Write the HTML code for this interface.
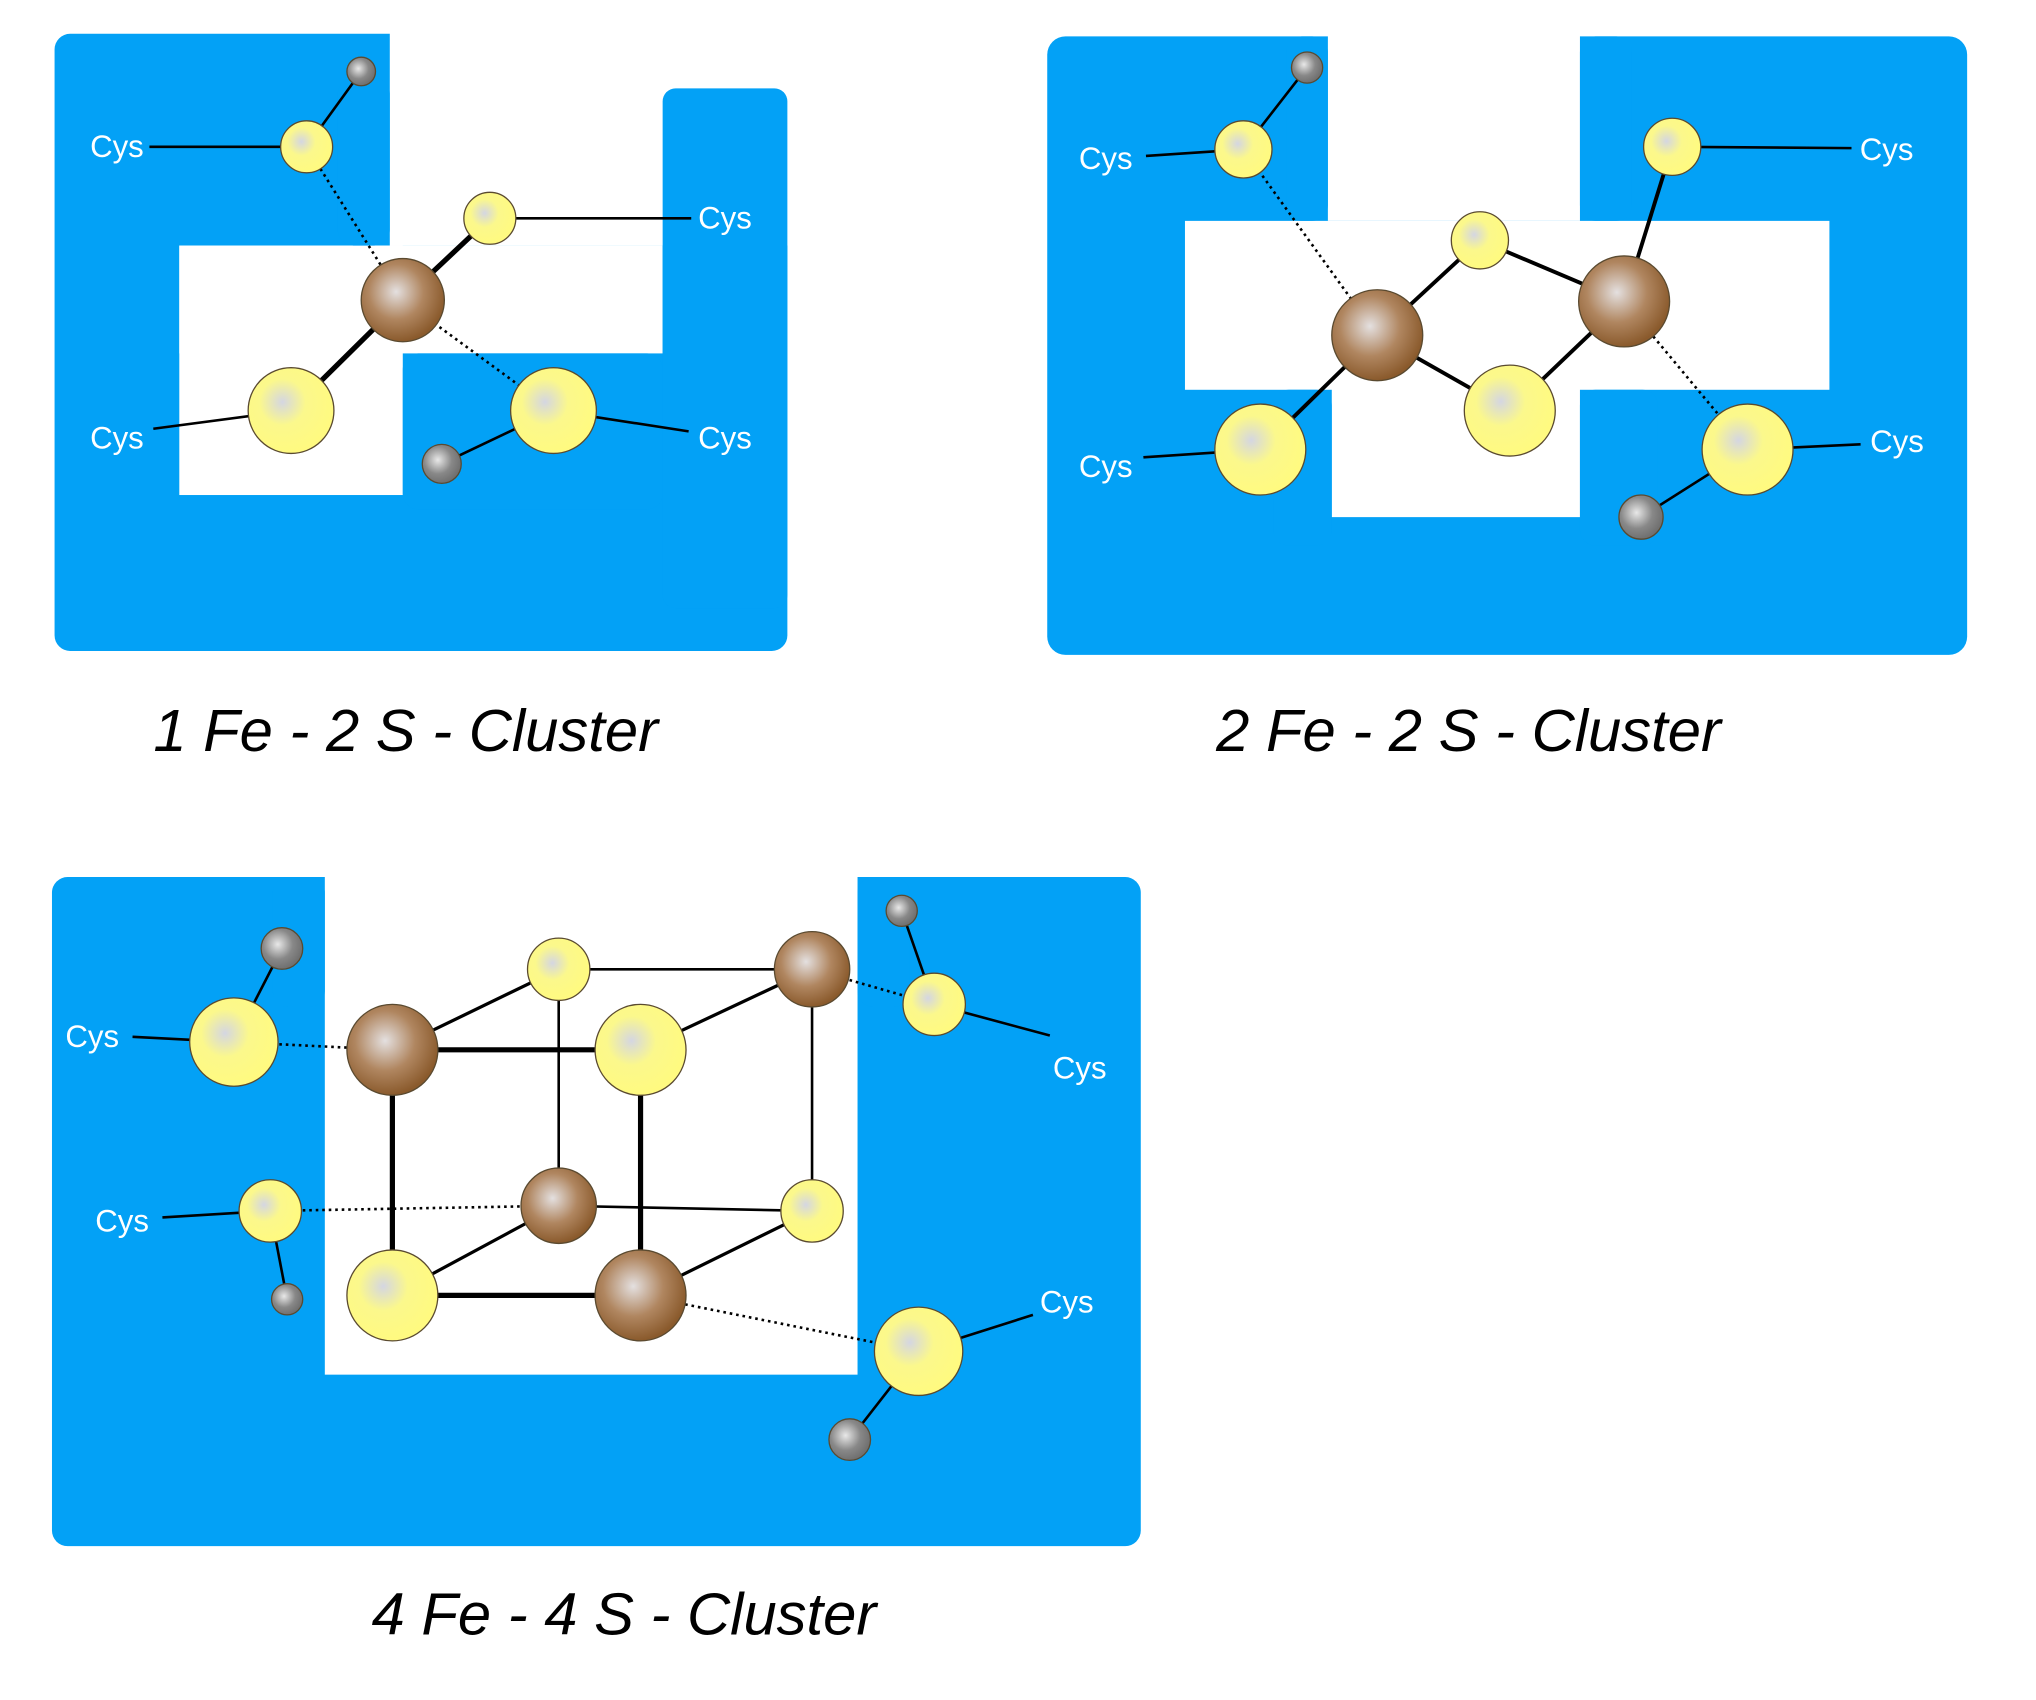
<!DOCTYPE html>
<html><head><meta charset="utf-8"><style>
html,body{margin:0;padding:0;background:#fff;}
svg{display:block;}
text{font-family:"Liberation Sans",sans-serif;}
</style></head><body>
<svg width="2036" height="1700" viewBox="0 0 1567 1308.4" xmlns="http://www.w3.org/2000/svg">
<defs>
<radialGradient id="fe" cx="0.42" cy="0.4" r="0.6"><stop offset="0" stop-color="#e4e0e0"/><stop offset="0.55" stop-color="#b08660"/><stop offset="1" stop-color="#8a5a2c"/></radialGradient>
<radialGradient id="s" cx="0.4" cy="0.4" r="0.6"><stop offset="0" stop-color="#d4d6e2"/><stop offset="0.45" stop-color="#fbf88c"/><stop offset="1" stop-color="#fffa80"/></radialGradient>
<radialGradient id="h" cx="0.4" cy="0.4" r="0.6"><stop offset="0" stop-color="#e8e8e8"/><stop offset="0.6" stop-color="#888"/><stop offset="1" stop-color="#707070"/></radialGradient>
</defs>
<g fill="#03a1f6">
<rect x="42" y="26" width="564" height="475" rx="12"/>
</g>
<g fill="#fff">
<rect x="300" y="20" width="320" height="169"/>
<rect x="138" y="189" width="372" height="83"/>
<rect x="138" y="189" width="172" height="192"/>
</g>
<g fill="#03a1f6">
<rect x="510" y="68" width="96" height="400" rx="10"/>
<rect x="310" y="272" width="200" height="120" rx="12"/>
<rect x="260" y="60" width="40" height="129" rx="12"/>
<rect x="806" y="28" width="708" height="476" rx="14"/>
</g>
<g fill="#fff">
<rect x="1022" y="20" width="194" height="150"/>
<rect x="912" y="170" width="496" height="130"/>
<rect x="1025" y="290" width="191" height="108"/>
</g>
<g fill="#03a1f6">
<rect x="990" y="28" width="32" height="142" rx="12"/>
<rect x="1216" y="28" width="40" height="142" rx="12"/>
<rect x="1216" y="300" width="60" height="120" rx="12"/>
<rect x="980" y="300" width="45" height="120" rx="12"/>
<rect x="40" y="675" width="838" height="515" rx="12"/>
</g>
<g fill="#fff">
<rect x="250" y="660" width="410" height="398"/>
</g>
<g fill="#03a1f6">
<rect x="210" y="675" width="40" height="100" rx="12"/>
<rect x="660" y="675" width="40" height="100" rx="12"/>
</g>

<g stroke="#000" fill="none">
<line x1="115" y1="113" x2="216" y2="113" stroke-width="2"/>
<line x1="236" y1="113" x2="278" y2="55" stroke-width="2"/>
<line x1="236" y1="113" x2="310" y2="231" stroke-width="2" stroke-dasharray="2,3"/>
<line x1="310" y1="231" x2="377" y2="168" stroke-width="4"/>
<line x1="377" y1="168" x2="532" y2="168" stroke-width="2"/>
<line x1="310" y1="231" x2="224" y2="316" stroke-width="4"/>
<line x1="310" y1="231" x2="426" y2="316" stroke-width="2" stroke-dasharray="2,3"/>
<line x1="224" y1="316" x2="118" y2="330" stroke-width="2"/>
<line x1="426" y1="316" x2="530" y2="332" stroke-width="2"/>
<line x1="426" y1="316" x2="340" y2="357" stroke-width="2"/>
<line x1="882" y1="120" x2="957" y2="115" stroke-width="2"/>
<line x1="957" y1="115" x2="1006" y2="52" stroke-width="2"/>
<line x1="957" y1="115" x2="1060" y2="258" stroke-width="2" stroke-dasharray="2,3"/>
<line x1="1060" y1="258" x2="1139" y2="185" stroke-width="3"/>
<line x1="1139" y1="185" x2="1250" y2="232" stroke-width="3"/>
<line x1="1060" y1="258" x2="1162" y2="316" stroke-width="3"/>
<line x1="1162" y1="316" x2="1250" y2="232" stroke-width="3"/>
<line x1="1250" y1="232" x2="1287" y2="113" stroke-width="3"/>
<line x1="1287" y1="113" x2="1425" y2="114" stroke-width="2"/>
<line x1="1250" y1="232" x2="1345" y2="346" stroke-width="2" stroke-dasharray="2,3"/>
<line x1="1345" y1="346" x2="1432" y2="342" stroke-width="2"/>
<line x1="1345" y1="346" x2="1263" y2="398" stroke-width="2"/>
<line x1="1060" y1="258" x2="970" y2="346" stroke-width="3"/>
<line x1="970" y1="346" x2="880" y2="352" stroke-width="2"/>
<line x1="302" y1="808" x2="493" y2="808" stroke-width="4"/>
<line x1="302" y1="808" x2="302" y2="997" stroke-width="4"/>
<line x1="493" y1="808" x2="493" y2="997" stroke-width="4"/>
<line x1="302" y1="997" x2="493" y2="997" stroke-width="4"/>
<line x1="302" y1="808" x2="430" y2="746" stroke-width="2.5"/>
<line x1="430" y1="746" x2="625" y2="746" stroke-width="2"/>
<line x1="493" y1="808" x2="625" y2="746" stroke-width="2.5"/>
<line x1="625" y1="746" x2="625" y2="932" stroke-width="2"/>
<line x1="430" y1="746" x2="430" y2="928" stroke-width="2"/>
<line x1="430" y1="928" x2="625" y2="932" stroke-width="2"/>
<line x1="302" y1="997" x2="430" y2="928" stroke-width="2.5"/>
<line x1="493" y1="997" x2="625" y2="932" stroke-width="2.5"/>
<line x1="102" y1="798" x2="180" y2="802" stroke-width="2"/>
<line x1="180" y1="802" x2="217" y2="730" stroke-width="2"/>
<line x1="180" y1="802" x2="302" y2="808" stroke-width="2" stroke-dasharray="2,3"/>
<line x1="125" y1="937" x2="208" y2="932" stroke-width="2"/>
<line x1="208" y1="932" x2="221" y2="1000" stroke-width="2"/>
<line x1="208" y1="932" x2="430" y2="928" stroke-width="2" stroke-dasharray="2,3"/>
<line x1="719" y1="773" x2="808" y2="797" stroke-width="2"/>
<line x1="719" y1="773" x2="694" y2="701" stroke-width="2"/>
<line x1="625" y1="746" x2="719" y2="773" stroke-width="2" stroke-dasharray="2,3"/>
<line x1="707" y1="1040" x2="795" y2="1012" stroke-width="2"/>
<line x1="707" y1="1040" x2="654" y2="1108" stroke-width="2"/>
<line x1="493" y1="997" x2="707" y2="1040" stroke-width="2" stroke-dasharray="2,3"/>
</g>

<g stroke="#5a4a30" stroke-width="1">
<circle cx="278" cy="55" r="11" fill="url(#h)"/>
<circle cx="340" cy="357" r="15" fill="url(#h)"/>
<circle cx="236" cy="113" r="20" fill="url(#s)"/>
<circle cx="377" cy="168" r="20" fill="url(#s)"/>
<circle cx="224" cy="316" r="33" fill="url(#s)"/>
<circle cx="426" cy="316" r="33" fill="url(#s)"/>
<circle cx="310" cy="231" r="32" fill="url(#fe)"/>
<circle cx="1006" cy="52" r="12" fill="url(#h)"/>
<circle cx="1263" cy="398" r="17" fill="url(#h)"/>
<circle cx="957" cy="115" r="22" fill="url(#s)"/>
<circle cx="1287" cy="113" r="22" fill="url(#s)"/>
<circle cx="1139" cy="185" r="22" fill="url(#s)"/>
<circle cx="1162" cy="316" r="35" fill="url(#s)"/>
<circle cx="970" cy="346" r="35" fill="url(#s)"/>
<circle cx="1345" cy="346" r="35" fill="url(#s)"/>
<circle cx="1060" cy="258" r="35" fill="url(#fe)"/>
<circle cx="1250" cy="232" r="35" fill="url(#fe)"/>
<circle cx="217" cy="730" r="16" fill="url(#h)"/>
<circle cx="221" cy="1000" r="12" fill="url(#h)"/>
<circle cx="694" cy="701" r="12" fill="url(#h)"/>
<circle cx="654" cy="1108" r="16" fill="url(#h)"/>
<circle cx="430" cy="746" r="24" fill="url(#s)"/>
<circle cx="625" cy="932" r="24" fill="url(#s)"/>
<circle cx="493" cy="808" r="35" fill="url(#s)"/>
<circle cx="302" cy="997" r="35" fill="url(#s)"/>
<circle cx="180" cy="802" r="34" fill="url(#s)"/>
<circle cx="208" cy="932" r="24" fill="url(#s)"/>
<circle cx="719" cy="773" r="24" fill="url(#s)"/>
<circle cx="707" cy="1040" r="34" fill="url(#s)"/>
<circle cx="302" cy="808" r="35" fill="url(#fe)"/>
<circle cx="625" cy="746" r="29" fill="url(#fe)"/>
<circle cx="430" cy="928" r="29" fill="url(#fe)"/>
<circle cx="493" cy="997" r="35" fill="url(#fe)"/>
</g>

<g fill="#fff" font-size="24">
<text x="90" y="121" text-anchor="middle">Cys</text>
<text x="558" y="176" text-anchor="middle">Cys</text>
<text x="90" y="345" text-anchor="middle">Cys</text>
<text x="558" y="345" text-anchor="middle">Cys</text>
<text x="851" y="130" text-anchor="middle">Cys</text>
<text x="1452" y="123" text-anchor="middle">Cys</text>
<text x="851" y="367" text-anchor="middle">Cys</text>
<text x="1460" y="348" text-anchor="middle">Cys</text>
<text x="71" y="806" text-anchor="middle">Cys</text>
<text x="94" y="948" text-anchor="middle">Cys</text>
<text x="831" y="830" text-anchor="middle">Cys</text>
<text x="821" y="1010" text-anchor="middle">Cys</text>
</g>
<g fill="#000" font-size="46" font-style="italic">
<text x="118" y="578">1 Fe - 2 S - Cluster</text>
<text x="936" y="578">2 Fe - 2 S - Cluster</text>
<text x="286" y="1258">4 Fe - 4 S - Cluster</text>
</g>
</svg>
</body></html>
